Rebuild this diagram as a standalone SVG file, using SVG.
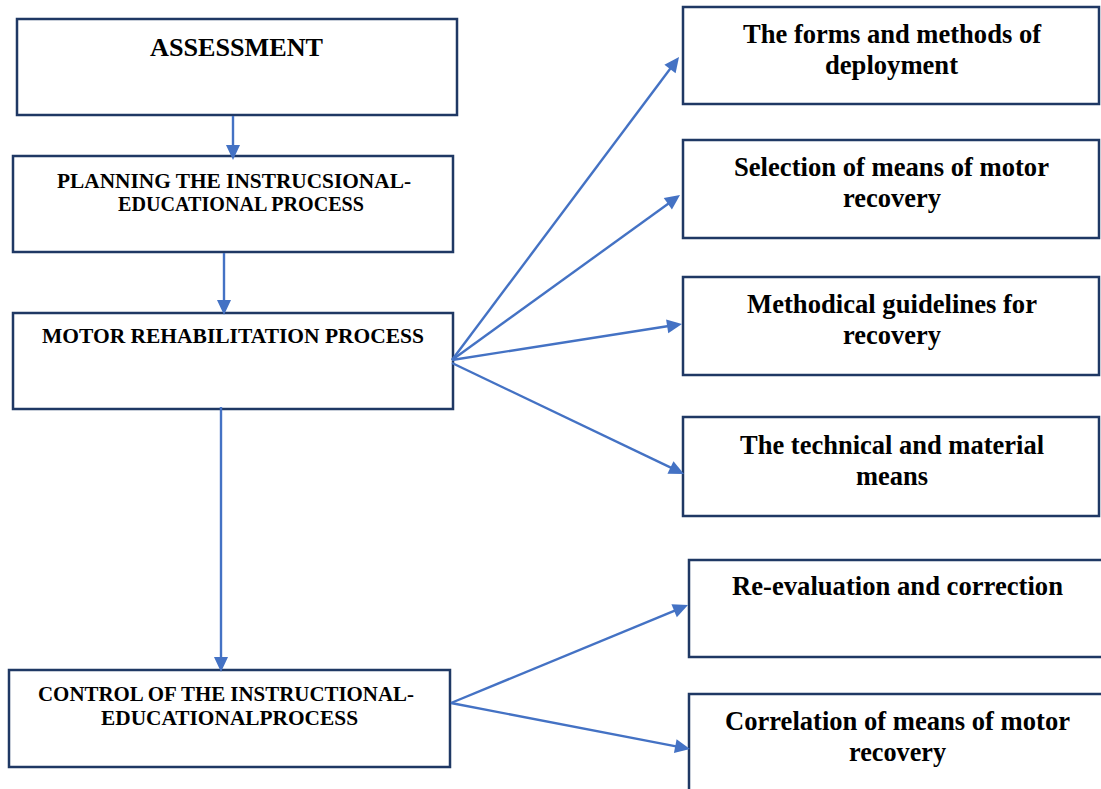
<svg xmlns="http://www.w3.org/2000/svg" xmlns:xlink="http://www.w3.org/1999/xlink" width="1101" height="789" viewBox="0 0 1101 789">
<defs>
<path id="head" d="M0,0 L-15,-7 L-15,7 z" fill="#4472C4"/>
<style>
.box{fill:#fff;stroke:#1F3864;stroke-width:2.5}
.t{font-family:"Liberation Serif","Times New Roman",serif;font-weight:bold;fill:#000;text-anchor:middle}
.big{font-size:26px}
.sm{font-size:20px}
.rt{font-size:27px}
.c{stroke:#4472C4;stroke-width:2.4;fill:none}
</style>
</defs>
<rect width="1101" height="789" fill="#fff"/>
<g id="assessment">
<rect class="box" x="17" y="19" width="440" height="96"/>
<text class="t big" x="236.5" y="56" textLength="173" lengthAdjust="spacingAndGlyphs">ASSESSMENT</text>
</g>
<g id="planning">
<rect class="box" x="13" y="156" width="440" height="96"/>
<text class="t sm" x="234" y="188" textLength="354" lengthAdjust="spacingAndGlyphs">PLANNING THE INSTRUCSIONAL-</text>
<text class="t sm" x="241" y="211" textLength="246" lengthAdjust="spacingAndGlyphs">EDUCATIONAL PROCESS</text>
</g>
<g id="motor">
<rect class="box" x="13" y="313" width="440" height="96"/>
<text class="t sm" x="233" y="343" textLength="382" lengthAdjust="spacingAndGlyphs">MOTOR REHABILITATION PROCESS</text>
</g>
<g id="control">
<rect class="box" x="9" y="670" width="441" height="97"/>
<text class="t sm" x="226" y="701" textLength="376" lengthAdjust="spacingAndGlyphs">CONTROL OF THE INSTRUCTIONAL-</text>
<text class="t sm" x="229.5" y="725" textLength="257" lengthAdjust="spacingAndGlyphs">EDUCATIONALPROCESS</text>
</g>
<g id="forms">
<rect class="box" x="683" y="7" width="416" height="97"/>
<text class="t rt" x="892" y="43" textLength="298" lengthAdjust="spacingAndGlyphs">The forms and methods of</text>
<text class="t rt" x="891.5" y="74" textLength="133" lengthAdjust="spacingAndGlyphs">deployment</text>
</g>
<g id="selection">
<rect class="box" x="683" y="140" width="416" height="98"/>
<text class="t rt" x="891.5" y="176" textLength="315" lengthAdjust="spacingAndGlyphs">Selection of means of motor</text>
<text class="t rt" x="892" y="207" textLength="98" lengthAdjust="spacingAndGlyphs">recovery</text>
</g>
<g id="guidelines">
<rect class="box" x="683" y="277" width="416" height="98"/>
<text class="t rt" x="892" y="313" textLength="290" lengthAdjust="spacingAndGlyphs">Methodical guidelines for</text>
<text class="t rt" x="892" y="344" textLength="98" lengthAdjust="spacingAndGlyphs">recovery</text>
</g>
<g id="technical">
<rect class="box" x="683" y="417" width="416" height="99"/>
<text class="t rt" x="892" y="454" textLength="304" lengthAdjust="spacingAndGlyphs">The technical and material</text>
<text class="t rt" x="892" y="485" textLength="72" lengthAdjust="spacingAndGlyphs">means</text>
</g>
<g id="reevaluation">
<rect class="box" x="689" y="560" width="414" height="97"/>
<text class="t rt" x="897.5" y="595" textLength="331" lengthAdjust="spacingAndGlyphs">Re-evaluation and correction</text>
</g>
<g id="correlation">
<rect class="box" x="689" y="694" width="414" height="100"/>
<text class="t rt" x="897.5" y="730" textLength="345" lengthAdjust="spacingAndGlyphs">Correlation of means of motor</text>
<text class="t rt" x="897.5" y="761" textLength="97" lengthAdjust="spacingAndGlyphs">recovery</text>
</g>
<g id="connectors">
<line class="c" x1="233" y1="116" x2="233" y2="150"/>
<use href="#head" xlink:href="#head" transform="translate(233,160) rotate(90)"/>
<line class="c" x1="224" y1="253" x2="224" y2="305"/>
<use href="#head" xlink:href="#head" transform="translate(224,315) rotate(90)"/>
<line class="c" x1="221" y1="407" x2="221" y2="662"/>
<use href="#head" xlink:href="#head" transform="translate(221,672) rotate(90)"/>
<line class="c" x1="452" y1="360" x2="673" y2="65"/>
<use href="#head" xlink:href="#head" transform="translate(679,57) rotate(-53.16)"/>
<line class="c" x1="452" y1="360" x2="672" y2="201"/>
<use href="#head" xlink:href="#head" transform="translate(680,195) rotate(-35.89)"/>
<line class="c" x1="452" y1="360" x2="672" y2="325.5"/>
<use href="#head" xlink:href="#head" transform="translate(682,324) rotate(-8.9)"/>
<line class="c" x1="452" y1="363" x2="675" y2="469.7"/>
<use href="#head" xlink:href="#head" transform="translate(684,474) rotate(25.56)"/>
<line class="c" x1="451" y1="703" x2="679" y2="608.8"/>
<use href="#head" xlink:href="#head" transform="translate(688,605) rotate(-22.47)"/>
<line class="c" x1="451" y1="703" x2="680" y2="747.1"/>
<use href="#head" xlink:href="#head" transform="translate(690,749) rotate(10.89)"/>
</g>
</svg>
